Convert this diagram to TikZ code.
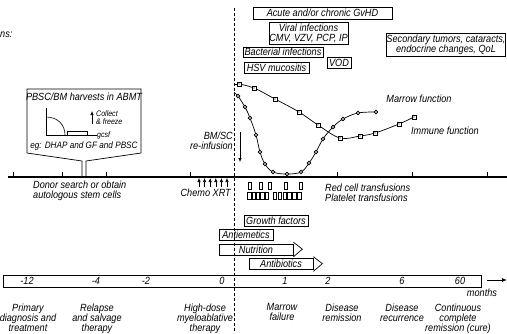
\documentclass[tikz,border=0pt]{standalone}
\usepackage{fontspec}
\setmainfont{Liberation Sans}[FakeStretch=0.88]
\usetikzlibrary{arrows.meta}
\usetikzlibrary{positioning}

\tikzset{
  lbl/.style={font=\fontsize{10.4}{10}\selectfont\itshape, inner sep=0pt, align=center},
  tiny/.style={font=\fontsize{8}{8}\selectfont\itshape, inner sep=0pt, align=left},
  infobox/.style={lbl, draw, line width=0.7pt},
  curve/.style={line width=0.7pt},
  tickmark/.style={line width=0.8pt},
  upar/.style={line width=0.6pt, -{Latex[length=4pt,width=3.4pt]}},
}
\newcommand{\sqmk}[1]{\draw[line width=0.6pt, fill=white] #1 +(-1.8,-1.8) rectangle +(1.8,1.8); \fill #1 circle (0.7);}
\newcommand{\cimk}[1]{\draw[line width=0.6pt, fill=white] #1 circle (1.9); \fill #1 circle (0.7);}

\begin{document}
\begin{tikzpicture}[x=1pt, y=-1pt]
  % Frame to ensure alignment:
  \useasboundingbox (0,0) rectangle (507,333);

  \node[lbl, anchor=west] (compl) at (0,35) {ns:};

  % complications boxes
  \node[infobox, minimum width=139pt, minimum height=12pt] (gvhd) at (322.5,13) {Acute and/or chronic GvHD};
  \node[infobox, minimum width=79pt, minimum height=22pt] (viral) at (308.5,33) {Viral infections\\CMV, VZV, PCP, IP};
  \node[infobox, minimum width=80pt, minimum height=10pt] (bact) at (283,52) {Bacterial infections};
  \node[infobox, minimum width=65pt, minimum height=11pt] (hsv) at (276.5,67.5) {HSV mucositis};
  \node[infobox, minimum width=24pt, minimum height=11pt] (vod) at (339,62.5) {VOD};
  \node[infobox, minimum width=118pt, minimum height=23pt] (late) at (446,44.5) {Secondary tumors, cataracts,\\endocrine changes, QoL};

  % recovery curves
  \draw[curve] (234,84) -- (239,84);
  \draw[curve] plot[smooth, tension=0.6] coordinates
    {(239,84) (254,88) (275,99) (299,112) (318,125) (340,138) (360,136) (375,133) (399,124) (414,117)};
  \foreach \p in {(239,84),(254,88),(275,99),(299,112),(318,125),(340,138),(360,136),(375,133),(399,124),(414,117)}
    {\sqmk{\p}}
  \draw[curve] (234,92) -- (238,96);
  \draw[curve] plot[smooth, tension=0.6] coordinates
    {(238,96) (245,107) (250,118) (256,135) (260,152) (265,164) (273,172) (287,174) (301,172) (309,163)
     (316,152) (323,139) (333,127) (343,119) (358,113) (376,112)};
  \foreach \p in {(238,96),(245,107),(250,118),(256,135),(260,152),(265,164),(273,172),(287,174),(301,172),(309,163),(316,152),(323,139),(333,127),(343,119),(358,113),(376,112)}
    {\cimk{\p}}
  \node[lbl] (marrow) at (419,99) {Marrow function};
  \node[lbl] (immune) at (445,131) {Immune function};

  % re-infusion
  \node[lbl, align=right, anchor=east] (reinf) at (233,141) {BM/SC\\re-infusion};
  \coordinate (rtop) at (240,132);
  \coordinate (rbot) at (240,162);
  \draw[upar] (rtop) -- (rbot);

  % harvest callout
  \draw[line width=0.7pt] (82,177) -- (82,161) -- (27,153) -- (27,89) -- (141,89) -- (141,153) -- (86,161) -- (86,177);
  \node[lbl] (harv) at (84,97) {PBSC/BM harvests in ABMT};
  \draw[line width=0.6pt] (46,108) -- (46,135) -- (97,135);
  \draw[line width=0.6pt] (46,117) .. controls (58,117) and (65,125) .. (65,135);
  \draw[line width=0.6pt] (67,135) rectangle (87,131.5);
  \node[tiny, anchor=west] (gcsf) at (97,135) {gcsf};
  \coordinate (ctop) at (92,111);
  \coordinate (cbot) at (92,124);
  \draw[upar] (cbot) -- (ctop);
  \node[tiny, anchor=west] (collect) at (96,114) {Collect};
  \node[tiny, anchor=west] (freeze) at (96,122) {\& freeze};
  \node[lbl, font=\fontsize{9.3}{9}\selectfont\itshape] (eg) at (84,146.5) {eg: DHAP and GF and PBSC};

  % time axis
  \draw[line width=1.1pt] (8,177) -- (507,177);
  \foreach \tx in {13,62,106,190,337,412,487}
    \draw[tickmark] (\tx,177) -- (\tx,172);
  \node[lbl, align=left, anchor=west] (donor) at (33,191) {Donor search or obtain\\autologous stem cells};

  % chemo
  \foreach \ax in {199,204.6,210.2,215.8,221.4,227}
    \draw[upar] (\ax,186.5) -- (\ax,178);
  \node[lbl, anchor=east] (chemo) at (231,193) {Chemo XRT};

  % transfusions
  \foreach \bx in {248,259.5,268.5,284.5,299.5}
    \draw[line width=0.6pt] (\bx,182) rectangle ++(3,7);
  \foreach \bx in {247.5,251.9,256.3,260.7,265.1,273,277.9,282.8,287.7,292.6,297.5}
    \draw[line width=0.6pt] (\bx,192) rectangle ++(3.3,7);
  \node[lbl, align=left, anchor=west] (transf) at (325,192.5) {Red cell transfusions\\Platelet transfusions};

  % supportive care
  \node[infobox, minimum width=64pt, minimum height=11pt] (growth) at (276,220.5) {Growth factors};
  \node[infobox, minimum width=54pt, minimum height=11pt] (emet) at (246,234.5) {Antiemetics};
  \node[infobox, minimum width=74pt, minimum height=11pt] (nutr) at (256,249.5) {Nutrition};
  \draw[line width=0.7pt] ([yshift=1.5pt]nutr.north east) -- ++(9,7) -- ([yshift=-1.5pt]nutr.south east);
  \node[infobox, minimum width=64pt, minimum height=11pt] (abio) at (281,264) {Antibiotics};
  \draw[line width=0.7pt] ([yshift=1.5pt]abio.north east) -- ++(9,7) -- ([yshift=-1.5pt]abio.south east);

  % months band
  \node[draw, line width=0.8pt, minimum width=478pt, minimum height=12pt, inner sep=0pt] (band) at (242,281) {};
  \foreach \mx/\mt in {27/-12,96/-4,146/-2,222/0,285/1,328/2,402/6,460/60}
    \node[lbl] at (\mx,281) {\mt};
  \coordinate (mend) at (507,280);
  \draw[line width=0.8pt, -{Latex[length=5pt,width=4pt]}] ([xshift=6pt]band.east |- mend) -- (mend);
  \node[lbl] (months) at (482,293) {months};

  % phases
  \node[lbl, anchor=north] (prim) at (28,303.5) {Primary\\diagnosis and\\treatment};
  \node[lbl, anchor=north] (relap) at (97,303.5) {Relapse\\and salvage\\therapy};
  \node[lbl, anchor=north] (hdose) at (205,303.5) {High-dose\\myeloablative\\therapy};
  \node[lbl, anchor=north] (mfail) at (282,303.5) {Marrow\\failure};
  \node[lbl, anchor=north] (remis) at (342,303.5) {Disease\\remission};
  \node[lbl, anchor=north] (recur) at (402,303.5) {Disease\\recurrence};
  \node[lbl, anchor=north] (cure) at (458,303.5) {Continuous\\complete\\remission (cure)};

  % day zero
  \coordinate (dtop) at (234,8);
  \coordinate (dbot) at (234,333);
  \draw[line width=0.7pt, dash pattern=on 3pt off 2pt] (dtop) -- (dbot);
\end{tikzpicture}
\end{document}
